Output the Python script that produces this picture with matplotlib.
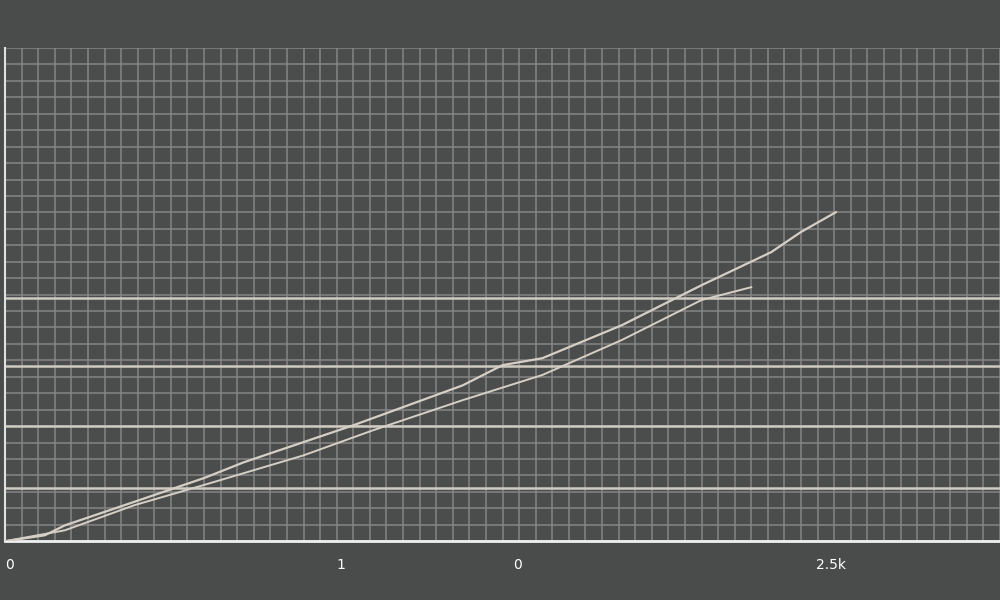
import numpy as np
import matplotlib.pyplot as plt
from matplotlib.ticker import MultipleLocator

# series (x 0..1000, y 0..100)
upperX = [0, 40, 60, 120, 200, 240, 350, 460, 500, 540, 620, 700, 770, 800, 835]
upperY = [0, 1.2, 3.2, 7.3, 12.8, 16.0, 23.5, 31.6, 35.7, 37.1, 43.8, 51.9, 58.6, 62.7, 66.7]
lowerX = [0, 60, 130, 200, 300, 370, 460, 540, 620, 700, 750]
lowerY = [0, 2.2, 7.3, 11.4, 17.4, 22.5, 28.6, 33.7, 40.8, 48.9, 51.5]

tickPositions = [5, 338, 515, 830]
tickLabels = ['0', '1', '0', '2.5k']
highlightLevels = [10.7, 23.3, 35.5, 49.3]

bgColor = '#4a4b4b'
gridColor = '#858585'
lineColor = '#d6cfc6'

fig = plt.figure(figsize=(10, 6), dpi=100, facecolor=bgColor)
ax = fig.add_axes([0.005, 0.098, 0.995, 0.822])
ax.set_facecolor('#4b4d4c')

ax.set_xlim(0, 1000)
ax.set_ylim(0, 100)

ax.xaxis.set_minor_locator(MultipleLocator(1000 / 60))
ax.yaxis.set_minor_locator(MultipleLocator(100 / 30))
ax.grid(which='minor', color=gridColor, linewidth=1.2, alpha=0.9)
ax.set_axisbelow(True)

for level in highlightLevels:
    ax.axhline(level, color='#cfcac2', linewidth=1.8, zorder=1)

ax.plot(upperX, upperY, color=lineColor, linewidth=1.6, zorder=3)
ax.plot(lowerX, lowerY, color=lineColor, linewidth=1.4, zorder=3)

ax.set_xticks(tickPositions)
ax.set_xticklabels(tickLabels)
ax.set_yticks([])
ax.tick_params(axis='x', which='both', length=0, colors='white', labelsize=10, pad=12)
ax.tick_params(axis='y', which='both', length=0)

for side in ['top', 'right']:
    ax.spines[side].set_visible(False)
ax.spines['left'].set_color('#e0e0e0')
ax.spines['left'].set_linewidth(1.5)
ax.spines['bottom'].set_color('#f0f0f0')
ax.spines['bottom'].set_linewidth(2)

fig.savefig('out.png', dpi=100, facecolor=bgColor)
